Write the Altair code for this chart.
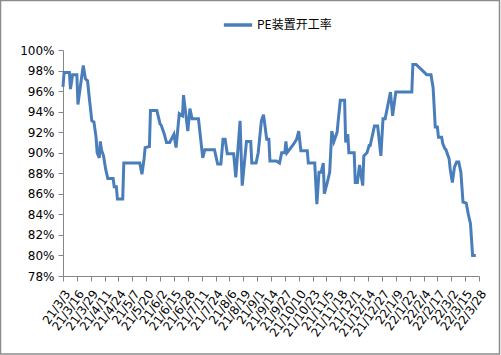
import altair as alt
import pandas as pd

SERIES = "PE装置开工率"

dates = [
    "2021-03-03", "2021-03-04", "2021-03-09", "2021-03-10", "2021-03-12", "2021-03-16",
    "2021-03-17", "2021-03-20", "2021-03-22", "2021-03-24", "2021-03-26", "2021-03-28",
    "2021-03-29", "2021-03-30", "2021-04-01", "2021-04-03", "2021-04-04", "2021-04-06",
    "2021-04-07", "2021-04-08", "2021-04-10", "2021-04-12", "2021-04-14", "2021-04-19",
    "2021-04-20", "2021-04-22", "2021-04-23", "2021-04-28", "2021-04-29", "2021-05-14",
    "2021-05-16", "2021-05-18",
    "2021-05-19", "2021-05-23", "2021-05-24", "2021-05-30", "2021-06-02", "2021-06-03",
    "2021-06-06", "2021-06-08", "2021-06-11", "2021-06-15", "2021-06-17", "2021-06-20",
    "2021-06-23", "2021-06-24", "2021-06-28", "2021-06-30", "2021-07-02", "2021-07-08",
    "2021-07-12", "2021-07-14", "2021-07-23", "2021-07-26", "2021-07-29", "2021-07-31",
    "2021-08-02", "2021-08-04",
    "2021-08-10", "2021-08-12", "2021-08-16", "2021-08-18", "2021-08-22", "2021-08-26",
    "2021-08-27", "2021-08-31", "2021-09-02", "2021-09-05", "2021-09-07", "2021-09-10",
    "2021-09-12", "2021-09-13", "2021-09-19", "2021-09-22", "2021-09-24", "2021-09-27",
    "2021-09-28", "2021-09-29", "2021-10-05", "2021-10-08", "2021-10-10", "2021-10-12",
    "2021-10-18", "2021-10-19",
    "2021-10-25", "2021-10-27", "2021-10-29", "2021-10-31", "2021-11-02", "2021-11-03",
    "2021-11-06", "2021-11-08", "2021-11-10", "2021-11-12", "2021-11-15", "2021-11-16",
    "2021-11-18", "2021-11-22", "2021-11-23", "2021-11-25", "2021-11-26", "2021-12-01",
    "2021-12-02", "2021-12-04", "2021-12-06", "2021-12-09", "2021-12-10", "2021-12-13",
    "2021-12-15", "2021-12-16", "2021-12-20", "2021-12-23", "2021-12-26", "2021-12-28",
    "2021-12-30",
    "2022-01-04", "2022-01-06", "2022-01-09", "2022-01-24", "2022-01-25", "2022-01-28",
    "2022-02-07", "2022-02-11", "2022-02-13", "2022-02-15", "2022-02-17", "2022-02-18",
    "2022-02-21", "2022-02-22", "2022-02-24", "2022-02-25", "2022-02-28", "2022-03-01",
    "2022-03-03", "2022-03-05", "2022-03-07", "2022-03-09", "2022-03-11", "2022-03-13",
    "2022-03-16", "2022-03-18", "2022-03-20", "2022-03-22", "2022-03-25",
]

rates = [
    96.4, 97.8, 97.8, 96.2, 97.6, 97.6,
    94.7, 97.0, 98.5, 97.2, 97.0, 95.0,
    94.1, 93.1, 93.0, 91.5, 90.0, 89.5,
    91.1, 90.3, 89.7, 88.4, 87.5, 87.5,
    86.7, 86.7, 85.5, 85.5, 89.0, 89.0,
    87.9, 89.4,
    90.5, 90.6, 94.1, 94.1, 92.8, 92.7,
    91.8, 91.0, 91.0, 91.8, 90.5, 93.8,
    93.6, 95.6, 92.1, 94.3, 93.3, 93.3,
    89.5, 90.3, 90.3, 88.9, 88.9, 91.3,
    91.3, 89.9,
    89.9, 87.6, 93.1, 86.8, 91.1, 91.1,
    89.0, 89.0, 90.0, 93.1, 93.7, 91.3,
    91.3, 89.2, 89.2, 89.0, 90.0, 90.0,
    91.1, 90.0, 90.8, 91.3, 92.1, 90.2,
    90.2, 89.0,
    89.0, 85.0, 88.1, 88.1, 89.0, 86.0,
    87.2, 88.1, 92.1, 91.1, 92.0, 93.1,
    95.1, 95.1, 91.0, 91.8, 90.0, 90.0,
    87.1, 87.1, 88.8, 86.8, 89.7, 90.0,
    90.7, 90.7, 92.6, 92.6, 89.7, 93.3,
    93.3,
    95.9, 93.6, 95.9, 95.9, 98.6, 98.6,
    97.6, 97.6, 96.3, 92.5, 92.5, 91.5,
    91.5, 90.9, 90.4, 90.3, 89.4, 88.4,
    87.1, 88.6, 89.1, 89.1, 88.1, 85.2,
    85.1, 84.0, 83.1, 80.0, 80.0,
]

tick_dates = [
    "2021-03-03", "2021-03-16", "2021-03-29", "2021-04-11", "2021-04-24", "2021-05-07",
    "2021-05-20", "2021-06-02", "2021-06-15", "2021-06-28", "2021-07-11", "2021-07-24",
    "2021-08-06", "2021-08-19", "2021-09-01", "2021-09-14", "2021-09-27", "2021-10-10",
    "2021-10-23", "2021-11-05", "2021-11-18", "2021-12-01", "2021-12-14", "2021-12-27",
    "2022-01-09", "2022-01-22", "2022-02-04", "2022-02-17", "2022-03-02", "2022-03-15",
    "2022-03-28",
]

y_ticks = [78, 80, 82, 84, 86, 88, 90, 92, 94, 96, 98, 100]

df = pd.DataFrame({"date": dates, "rate": rates, "series": SERIES})

def to_ms(s):
    return int(pd.Timestamp(s, tz="UTC").timestamp() * 1000)

tick_ms = [to_ms(d) for d in tick_dates]
domain_ms = [tick_ms[0], tick_ms[-1]]

FONT = "DejaVu Sans"
AXIS_GRAY = "#868686"

line = alt.Chart(df).mark_line(strokeWidth=3, clip=False).encode(
    x=alt.X(
        "date:T",
        scale=alt.Scale(type="utc", domain=domain_ms, nice=False),
        axis=alt.Axis(
            title=None,
            values=tick_ms,
            labelExpr="utcFormat(datum.value, '%y/%-m/%-d')",
            labelAngle=-55,
            labelAlign="right",
            labelBaseline="top",
            labelFont=FONT,
            labelFontSize=12,
            labelColor="#000000",
            labelPadding=7,
            labelOverlap=False,
            labelBound=False,
            labelFlush=False,
            grid=False,
            domainColor=AXIS_GRAY,
            tickColor=AXIS_GRAY,
            tickSize=5,
        ),
    ),
    y=alt.Y(
        "rate:Q",
        scale=alt.Scale(domain=[78, 100], nice=False, zero=False),
        axis=alt.Axis(
            title=None,
            values=y_ticks,
            labelExpr="datum.value + '%'",
            labelFont=FONT,
            labelFontSize=12,
            labelColor="#000000",
            labelPadding=4,
            grid=False,
            domainColor=AXIS_GRAY,
            tickColor=AXIS_GRAY,
            tickSize=5,
        ),
    ),
    color=alt.Color(
        "series:N",
        scale=alt.Scale(range=["#4A7EBB"]),
        legend=alt.Legend(
            title=None,
            orient="none",
            legendX=159,
            legendY=-41,
            symbolType="stroke",
            symbolSize=800,
            symbolStrokeWidth=3.5,
            labelFont="Noto Sans CJK SC",
            labelFontSize=12,
            labelColor="#000000",
            labelOffset=3,
        ),
    ),
)

frame_df = pd.DataFrame({"k": [0]})
frame = alt.Chart(frame_df).mark_rect(
    fill=None, filled=False, stroke="#8c8c8c", strokeWidth=1.5
).encode(
    x=alt.value(-62.5),
    x2=alt.value(436.5),
    y=alt.value(-49.5),
    y2=alt.value(304),
)

chart = alt.layer(frame, line).properties(
    width=416,
    height=226,
    padding={"left": 63, "top": 50, "right": 22, "bottom": 79},
    autosize=alt.AutoSizeParams(type="none"),
    background="#ffffff",
).configure_view(stroke=None)

chart.save("out.html", embed_options={"renderer": "svg", "actions": False})
